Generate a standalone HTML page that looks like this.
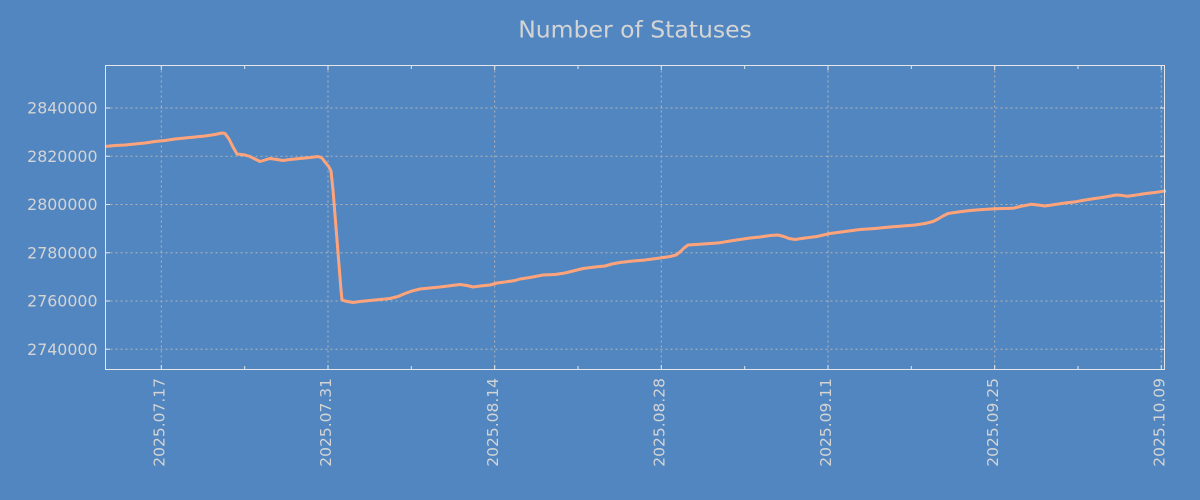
<!DOCTYPE html>
<html>
<head>
<meta charset="utf-8">
<style>
html,body{margin:0;padding:0;background:#5186c1;}
svg{display:block;}
text{font-family:"DejaVu Sans","Liberation Sans",sans-serif;fill:#d4d4d4;}
</style>
</head>
<body>
<svg width="1200" height="500" viewBox="0 0 1200 500" xmlns="http://www.w3.org/2000/svg">
<rect x="0" y="0" width="1200" height="500" fill="#5186c1"/>
<text x="635" y="37.5" font-size="23.5" text-anchor="middle">Number of Statuses</text>

<!-- grid -->
<g stroke="#b4b4b4" stroke-width="1" stroke-dasharray="2,3" fill="none">
  <line x1="105.5" y1="108" x2="1164.5" y2="108"/>
  <line x1="105.5" y1="156.25" x2="1164.5" y2="156.25"/>
  <line x1="105.5" y1="204.5" x2="1164.5" y2="204.5"/>
  <line x1="105.5" y1="252.75" x2="1164.5" y2="252.75"/>
  <line x1="105.5" y1="301" x2="1164.5" y2="301"/>
  <line x1="105.5" y1="349.25" x2="1164.5" y2="349.25"/>
  <line x1="161.3" y1="65.5" x2="161.3" y2="369.5"/>
  <line x1="328" y1="65.5" x2="328" y2="369.5"/>
  <line x1="494.7" y1="65.5" x2="494.7" y2="369.5"/>
  <line x1="661.3" y1="65.5" x2="661.3" y2="369.5"/>
  <line x1="828" y1="65.5" x2="828" y2="369.5"/>
  <line x1="994.7" y1="65.5" x2="994.7" y2="369.5"/>
  <line x1="1161.3" y1="65.5" x2="1161.3" y2="369.5"/>
</g>

<!-- ticks -->
<g stroke="#e6e6e6" stroke-width="1">
  <line x1="105.5" y1="108" x2="110" y2="108"/><line x1="1160" y1="108" x2="1164.5" y2="108"/>
  <line x1="105.5" y1="156.25" x2="110" y2="156.25"/><line x1="1160" y1="156.25" x2="1164.5" y2="156.25"/>
  <line x1="105.5" y1="204.5" x2="110" y2="204.5"/><line x1="1160" y1="204.5" x2="1164.5" y2="204.5"/>
  <line x1="105.5" y1="252.75" x2="110" y2="252.75"/><line x1="1160" y1="252.75" x2="1164.5" y2="252.75"/>
  <line x1="105.5" y1="301" x2="110" y2="301"/><line x1="1160" y1="301" x2="1164.5" y2="301"/>
  <line x1="105.5" y1="349.25" x2="110" y2="349.25"/><line x1="1160" y1="349.25" x2="1164.5" y2="349.25"/>
  <line x1="161.3" y1="65.5" x2="161.3" y2="70"/><line x1="161.3" y1="365" x2="161.3" y2="369.5"/>
  <line x1="244.7" y1="65.5" x2="244.7" y2="69"/><line x1="244.7" y1="366" x2="244.7" y2="369.5"/>
  <line x1="328" y1="65.5" x2="328" y2="70"/><line x1="328" y1="365" x2="328" y2="369.5"/>
  <line x1="411.3" y1="65.5" x2="411.3" y2="69"/><line x1="411.3" y1="366" x2="411.3" y2="369.5"/>
  <line x1="494.7" y1="65.5" x2="494.7" y2="70"/><line x1="494.7" y1="365" x2="494.7" y2="369.5"/>
  <line x1="578" y1="65.5" x2="578" y2="69"/><line x1="578" y1="366" x2="578" y2="369.5"/>
  <line x1="661.3" y1="65.5" x2="661.3" y2="70"/><line x1="661.3" y1="365" x2="661.3" y2="369.5"/>
  <line x1="744.7" y1="65.5" x2="744.7" y2="69"/><line x1="744.7" y1="366" x2="744.7" y2="369.5"/>
  <line x1="828" y1="65.5" x2="828" y2="70"/><line x1="828" y1="365" x2="828" y2="369.5"/>
  <line x1="911.3" y1="65.5" x2="911.3" y2="69"/><line x1="911.3" y1="366" x2="911.3" y2="369.5"/>
  <line x1="994.7" y1="65.5" x2="994.7" y2="70"/><line x1="994.7" y1="365" x2="994.7" y2="369.5"/>
  <line x1="1078" y1="65.5" x2="1078" y2="69"/><line x1="1078" y1="366" x2="1078" y2="369.5"/>
  <line x1="1161.3" y1="65.5" x2="1161.3" y2="70"/><line x1="1161.3" y1="365" x2="1161.3" y2="369.5"/>
</g>

<!-- data line -->
<polyline fill="none" stroke="#ffa47a" stroke-width="3" stroke-linejoin="round" points="
105,146.5 115,145.5 125,145 135,144 145,143 155,141.5 165,140.5 175,139 185,138 195,137 205,136 215,134.5 222,133 225,133.5
229,139 233,147 237,154 245,155 250,156.5 255,159 260,161.5 265,160 270,158.5 277,159.5 283,160.5 290,159.5 300,158.5 310,157.5 318,156.5
322,158 325,162 329,167 331,171 333,190 335,215 337,240 339,265 341,290 342,300 345,301 353,302.5 360,301.5 370,300.5 380,299.5 390,298.5
398,296.5 405,293.5 412,291 420,289 430,288 440,287 452,285.5 460,284.5 467,285.5 473,287 480,286 490,285 497,283 505,282 515,280.5
520,279 530,277.5 543,275 555,274.5 565,273 575,270.5 583,268.5 595,267 605,266 612,264 620,262.5 633,261 645,260 660,258 670,256.5
676,255 680,252 684,248 688,245 700,244.3 710,243.5 720,242.7 730,241 740,239.5 750,238 760,237 770,235.5 778,235 784,236.5 789,238.5
795,239.5 805,238 817,236.5 830,233.5 845,231.5 860,229.5 875,228.5 890,227 903,226 915,225 925,223.5 933,221.5 938,219 943,216 948,213.5
958,212 970,210.5 983,209.5 995,208.8 1013,208.3 1020,206.5 1031,204.3 1038,205 1045,206 1055,204.5 1065,203 1076,201.7 1085,200
1095,198.5 1105,197 1116,195 1121,195.3 1127,196.2 1135,195.2 1146,193.5 1155,192.5 1166,190.8"/>

<!-- spines -->
<rect x="105.5" y="65.5" width="1059" height="304" fill="none" stroke="#e6e6e6" stroke-width="1"/>

<!-- y labels -->
<g font-size="15.8" text-anchor="end">
  <text x="97.5" y="113.5">2840000</text>
  <text x="97.5" y="161.75">2820000</text>
  <text x="97.5" y="210">2800000</text>
  <text x="97.5" y="258.25">2780000</text>
  <text x="97.5" y="306.5">2760000</text>
  <text x="97.5" y="354.75">2740000</text>
</g>

<!-- x labels -->
<g font-size="15.5" text-anchor="end">
  <text transform="translate(164.5,378) rotate(-90)">2025.07.17</text>
  <text transform="translate(331.2,378) rotate(-90)">2025.07.31</text>
  <text transform="translate(497.9,378) rotate(-90)">2025.08.14</text>
  <text transform="translate(664.5,378) rotate(-90)">2025.08.28</text>
  <text transform="translate(831.2,378) rotate(-90)">2025.09.11</text>
  <text transform="translate(997.9,378) rotate(-90)">2025.09.25</text>
  <text transform="translate(1164.5,378) rotate(-90)">2025.10.09</text>
</g>
</svg>
</body>
</html>
